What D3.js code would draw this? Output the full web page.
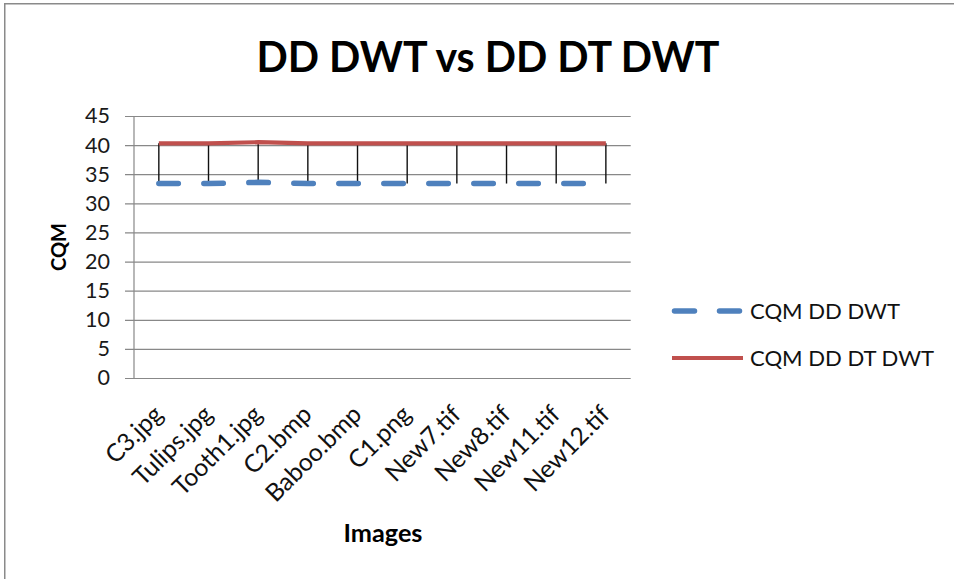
<!DOCTYPE html>
<html>
<head>
<meta charset="utf-8">
<script src="https://cdn.jsdelivr.net/npm/d3@7"></script>
<style>
  html, body { margin: 0; padding: 0; background: #fff; }
  svg { display: block; font-family: Lato, "Open Sans", "DejaVu Sans", sans-serif; }
</style>
</head>
<body>
<svg id="chart" width="954" height="579"></svg>
<script>
// Image names along the x axis
const categories = ["C3.jpg", "Tulips.jpg", "Tooth1.jpg", "C2.bmp", "Baboo.bmp",
                    "C1.png", "New7.tif", "New8.tif", "New11.tif", "New12.tif"];
// CQM values per method
const cqmDDDWT   = [33.4, 33.4, 33.6, 33.4, 33.4, 33.4, 33.4, 33.4, 33.4, 33.4];
const cqmDDDTDWT = [40.3, 40.3, 40.5, 40.3, 40.3, 40.3, 40.3, 40.3, 40.3, 40.3];
const yTicks = [0, 5, 10, 15, 20, 25, 30, 35, 40, 45];
const seriesNames = ["CQM DD DWT", "CQM DD DT DWT"];

const svg = d3.select("#chart");
const W = 954, H = 579;
const plot = { left: 134, right: 630.7, top: 116, bottom: 378 };
const blue = "#4F81BD", red = "#C0504D", grid = "#888888";

// Font size that makes a sample string span the wanted width
function fitSize(sample, width, weight) {
  const t = svg.append("text").attr("font-size", 20).attr("font-weight", weight || "normal").text(sample);
  const w = t.node().getComputedTextLength();
  t.remove();
  return 20 * width / w;
}
const tickSize = fitSize("45", 25);
const catSize = fitSize("New12.tif", 109);
const legendSize = fitSize("CQM DD DWT", 150);
const yTitleSize = fitSize("CQM", 48, "bold");
const xTitleSize = fitSize("Images", 79, "bold");
const titleSize = fitSize("DD DWT vs DD DT DWT", 463, "bold");

// Outer frame (top and left edges)
svg.append("line").attr("x1", 4.5).attr("x2", W).attr("y1", 3.75).attr("y2", 3.75)
  .attr("stroke", "#8a8a8a").attr("stroke-width", 1.5);
svg.append("line").attr("x1", 4.75).attr("x2", 4.75).attr("y1", 3).attr("y2", H)
  .attr("stroke", "#8a8a8a").attr("stroke-width", 1.5);

const x = d3.scalePoint().domain(categories).range([plot.left, plot.right]).padding(0.5);
const y = d3.scaleLinear().domain([0, 45]).range([plot.bottom, plot.top]);

// Horizontal gridlines (with short ticks left of the axis)
const gy = svg.append("g").attr("transform", `translate(${plot.right},0)`)
  .call(d3.axisLeft(y).tickValues(yTicks).tickSize(plot.right - plot.left + 9).tickFormat(""));
gy.select(".domain").remove();
gy.selectAll(".tick line").attr("stroke", grid).attr("stroke-width", 1.2);

// Y tick labels
const gyl = svg.append("g").attr("transform", `translate(${plot.left},0)`)
  .call(d3.axisLeft(y).tickValues(yTicks).tickSize(0).tickPadding(24));
gyl.select(".domain").remove();
gyl.selectAll("text").attr("font-size", tickSize).attr("fill", "#1a1a1a")
  .attr("font-family", "Lato, 'Open Sans', sans-serif");

// Vertical axis line
svg.append("line").attr("x1", plot.left).attr("x2", plot.left)
  .attr("y1", plot.top).attr("y2", plot.bottom).attr("stroke", grid).attr("stroke-width", 1.2);

// X axis labels, rotated
const gx = svg.append("g").attr("transform", `translate(0,${plot.bottom})`)
  .call(d3.axisBottom(x).tickSize(0).tickPadding(0));
gx.select(".domain").remove();
gx.selectAll("text")
  .attr("font-size", catSize).attr("fill", "#111")
  .attr("font-family", "Lato, 'Open Sans', sans-serif")
  .attr("text-anchor", "end")
  .attr("dy", 0)
  .attr("transform", "translate(5,38) rotate(-45)");

// High-low lines between the two series
svg.append("g").selectAll("line").data(categories).join("line")
  .attr("x1", d => x(d)).attr("x2", d => x(d))
  .attr("y1", (d, i) => y(cqmDDDTDWT[i])).attr("y2", (d, i) => y(cqmDDDWT[i]))
  .attr("stroke", "#111").attr("stroke-width", 1.4);

const line = d3.line().x((d, i) => x(categories[i])).y(d => y(d));

svg.append("path").datum(cqmDDDWT).attr("d", line)
  .attr("fill", "none").attr("stroke", blue).attr("stroke-width", 5.5)
  .attr("stroke-linecap", "round").attr("stroke-dasharray", "19.5,25.5");

svg.append("path").datum(cqmDDDTDWT).attr("d", line)
  .attr("fill", "none").attr("stroke", red).attr("stroke-width", 4.2);

// Title
svg.append("text").attr("x", 488).attr("y", 72).attr("text-anchor", "middle")
  .attr("font-weight", "bold").attr("font-size", titleSize).attr("fill", "#000")
  .text("DD DWT vs DD DT DWT");

// Axis titles
svg.append("text").attr("transform", "translate(66,247) rotate(-90)")
  .attr("text-anchor", "middle").attr("font-weight", "bold").attr("font-size", yTitleSize)
  .attr("fill", "#000").text("CQM");
svg.append("text").attr("x", 383).attr("y", 542).attr("text-anchor", "middle")
  .attr("font-weight", "bold").attr("font-size", xTitleSize).attr("fill", "#000").text("Images");

// Legend
const legend = svg.append("g");
const legendY = [311, 358];
legend.append("line").attr("x1", 674.5).attr("x2", 739.5).attr("y1", legendY[0]).attr("y2", legendY[0])
  .attr("stroke", blue).attr("stroke-width", 5.5).attr("stroke-linecap", "round")
  .attr("stroke-dasharray", "20,25");
legend.append("line").attr("x1", 672).attr("x2", 743).attr("y1", legendY[1]).attr("y2", legendY[1])
  .attr("stroke", red).attr("stroke-width", 4.2);
legend.selectAll("text").data(seriesNames).join("text")
  .attr("x", 750).attr("y", (d, i) => legendY[i] + 8)
  .attr("font-size", legendSize).attr("fill", "#111").text(d => d);
</script>
</body>
</html>
